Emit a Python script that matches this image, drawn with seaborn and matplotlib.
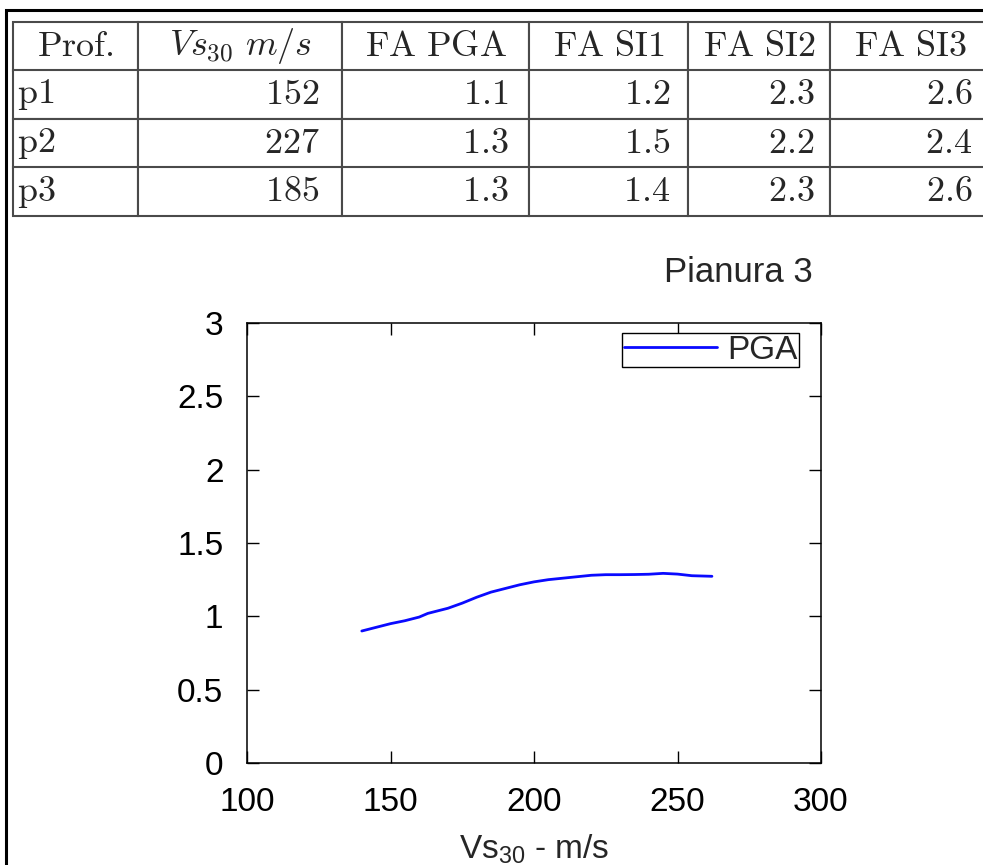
import matplotlib
matplotlib.use("Agg")
import matplotlib.pyplot as plt
import seaborn as sns
import pandas as pd
from matplotlib.table import Table
from matplotlib.patches import Rectangle

# ---------------- data ----------------
table_header = [r"$\mathrm{Prof.}$", r"$Vs_{30}\ m/s$", r"$\mathrm{FA\ PGA}$",
                r"$\mathrm{FA\ SI1}$", r"$\mathrm{FA\ SI2}$", r"$\mathrm{FA\ SI3}$"]
profiles = ["p1", "p2", "p3"]
vs30_values = ["152", "227", "185"]
fa_pga = ["1.1", "1.3", "1.3"]
fa_si1 = ["1.2", "1.5", "1.4"]
fa_si2 = ["2.3", "2.2", "2.3"]
fa_si3 = ["2.6", "2.4", "2.6"]

vs30 = [140, 145, 150, 155, 158, 160, 163, 165, 170, 175, 180, 185, 190, 195,
        200, 205, 210, 215, 220, 225, 230, 235, 240, 245, 250, 255, 262]
pga = [0.90, 0.925, 0.95, 0.97, 0.985, 0.995, 1.02, 1.03, 1.055, 1.09, 1.13,
       1.165, 1.19, 1.215, 1.235, 1.25, 1.26, 1.27, 1.28, 1.284, 1.284, 1.285,
       1.287, 1.293, 1.288, 1.277, 1.273]
series_label = "PGA"
chart_title = "Pianura 3"
x_ticks = [100, 150, 200, 250, 300]
y_ticks = [0, 0.5, 1, 1.5, 2, 2.5, 3]
y_tick_labels = ["0", "0.5", "1", "1.5", "2", "2.5", "3"]

# ---------------- style ----------------
sns.set_theme(style="ticks")
plt.rcParams["font.family"] = ["Liberation Sans", "DejaVu Sans"]
plt.rcParams["mathtext.fontset"] = "custom"
plt.rcParams["mathtext.rm"] = "Liberation Sans"
plt.rcParams["mathtext.it"] = "Liberation Sans:italic"

W, H = 983, 865
fig = plt.figure(figsize=(W / 100, H / 100), dpi=100)
fig.patch.set_facecolor("white")

# outer frame
fig.add_artist(Rectangle((6 / W, -0.1), 1.2, (H - 10) / H + 0.1,
                         transform=fig.transFigure, fill=False,
                         edgecolor="black", linewidth=2.2))

# ---------------- table ----------------
tl, tr, ttop, tbot = 13, 990, 22, 216
ax_t = fig.add_axes([tl / W, 1 - tbot / H, (tr - tl) / W, (tbot - ttop) / H])
ax_t.set_axis_off()
col_px = [125, 204, 187, 159, 142, 160]
tot = sum(col_px)
col_w = [c / tot for c in col_px]
rows = [list(r) for r in zip(profiles, vs30_values, fa_pga, fa_si1, fa_si2, fa_si3)]
tbl = Table(ax_t, bbox=[0, 0, 1, 1])
nrow = len(rows) + 1
for c, txt in enumerate(table_header):
    tbl.add_cell(0, c, width=col_w[c], height=1 / nrow, text=txt, loc="center")
for r, row in enumerate(rows, start=1):
    for c, txt in enumerate(row):
        tbl.add_cell(r, c, width=col_w[c], height=1 / nrow,
                     text=r"$\mathrm{" + txt + "}$",
                     loc="left" if c == 0 else "right")
tbl.auto_set_font_size(False)
tbl.set_fontsize(26)
for (r, c), cell in tbl.get_celld().items():
    cell.set_edgecolor("#4a4a4a")
    cell.set_linewidth(1.5)
    cell.get_text().set_math_fontfamily("cm")
    if c == 0 and r > 0:
        cell.PAD = 0.03
    elif c > 0 and r > 0:
        cell.PAD = 0.11
ax_t.add_table(tbl)

# ---------------- chart ----------------
al, ar, at, ab = 247, 821, 323, 763
ax = fig.add_axes([al / W, 1 - ab / H, (ar - al) / W, (ab - at) / H])
df = pd.DataFrame({"Vs30": vs30, "FA": pga})
sns.lineplot(data=df, x="Vs30", y="FA", ax=ax, color="#0a0aff",
             linewidth=2.0, label=series_label, estimator=None, sort=False)
ax.set_xlim(100, 300)
ax.set_ylim(0, 3)
ax.set_xticks(x_ticks)
ax.set_yticks(y_ticks)
ax.set_yticklabels(y_tick_labels)
ax.tick_params(direction="in", length=8.6, width=1.0, top=True, right=True,
               labelsize=24, pad=17, colors="black")
for s in ax.spines.values():
    s.set_visible(True)
    s.set_linewidth(1.1)
    s.set_color("black")
ax.set_xlabel(r"Vs$_{\mathrm{30}}$ - m/s", fontsize=24, labelpad=11)
ax.set_ylabel("")
ax.set_facecolor("white")

leg = ax.legend(loc="upper right", bbox_to_anchor=(799 / W, 1 - 333 / H),
                bbox_transform=fig.transFigure, fontsize=24, frameon=True,
                fancybox=False, shadow=False, borderpad=0.05, borderaxespad=0,
                handlelength=2.8, handletextpad=0.3, labelspacing=0)
leg.get_frame().set_edgecolor("black")
leg.get_frame().set_linewidth(1.0)
leg.get_frame().set_alpha(1)

fig.text(738 / W, 1 - 282 / H, chart_title, ha="center", va="baseline",
         fontsize=25)

fig.savefig("out.png", dpi=100)
